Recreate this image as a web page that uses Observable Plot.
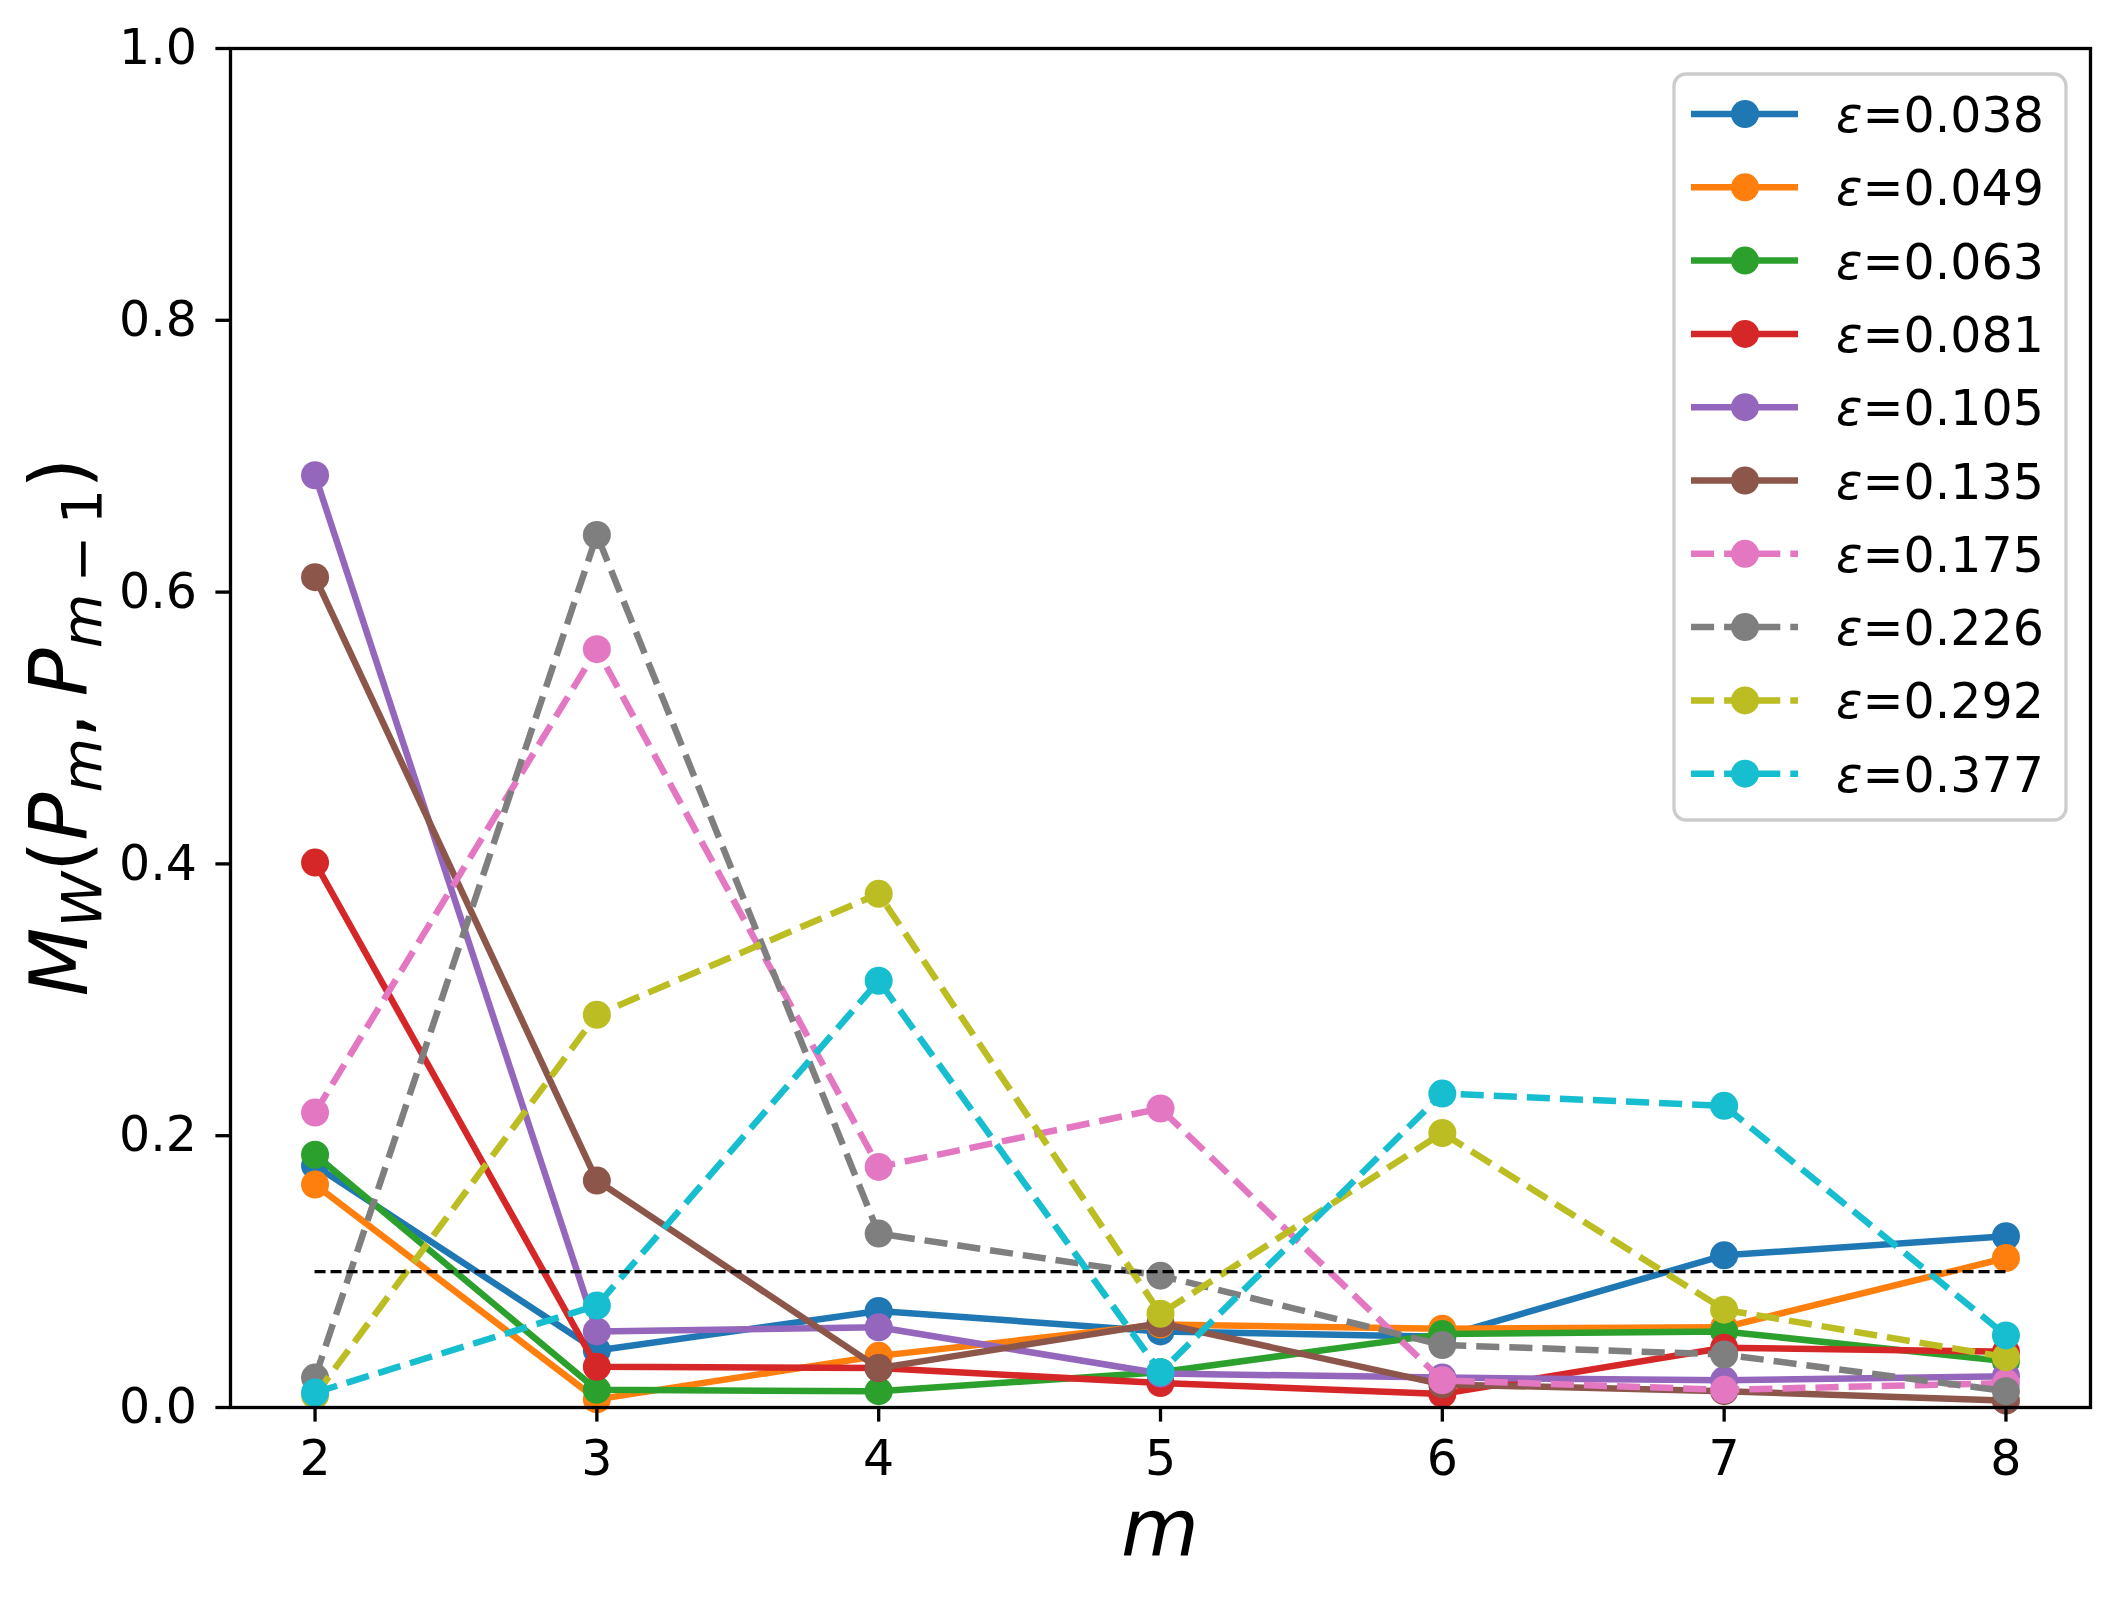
<!DOCTYPE html>
<html>
<head>
<meta charset="utf-8">
<script src="https://cdn.jsdelivr.net/npm/d3@7"></script>
<script src="https://cdn.jsdelivr.net/npm/@observablehq/plot@0.6"></script>
<style>
  html, body { margin: 0; padding: 0; background: #fff; }
  #chart svg { display: block; }
</style>
</head>
<body>
<div id="chart"></div>
<script>
// ---- data ----
const mValues = [2, 3, 4, 5, 6, 7, 8];
const epsLabels = ["0.038", "0.049", "0.063", "0.081", "0.105", "0.135", "0.175", "0.226", "0.292", "0.377"];
const eps038 = [0.178, 0.042, 0.071, 0.056, 0.052, 0.112, 0.126];
const eps049 = [0.164, 0.006, 0.038, 0.061, 0.058, 0.059, 0.110];
const eps063 = [0.186, 0.013, 0.012, 0.026, 0.054, 0.056, 0.034];
const eps081 = [0.401, 0.030, 0.029, 0.018, 0.010, 0.044, 0.041];
const eps105 = [0.686, 0.056, 0.059, 0.025, 0.022, 0.020, 0.023];
const eps135 = [0.611, 0.167, 0.029, 0.062, 0.017, 0.012, 0.005];
const eps175 = [0.217, 0.558, 0.177, 0.220, 0.020, 0.013, 0.018];
const eps226 = [0.022, 0.642, 0.128, 0.097, 0.046, 0.039, 0.012];
const eps292 = [0.009, 0.289, 0.378, 0.069, 0.202, 0.072, 0.037];
const eps377 = [0.011, 0.075, 0.314, 0.026, 0.231, 0.222, 0.053];
const threshold = [0.1];
const yTicks = [0, 0.2, 0.4, 0.6, 0.8, 1.0];

// ---- styles ----
const palette = ["#1f77b4", "#ff7f0e", "#2ca02c", "#d62728", "#9467bd",
                 "#8c564b", "#e377c2", "#7f7f7f", "#bcbd22", "#17becf"];
const dashedSeries = [false, false, false, false, false, false, true, true, true, true];
const seriesValues = [eps038, eps049, eps063, eps081, eps105, eps135, eps175, eps226, eps292, eps377];

const W = 2119, H = 1604;
const LW = 6.5, DASH = "23.1,10", R = 14;

const marks = [];
seriesValues.forEach((vals, i) => {
  const rows = mValues.map((m, j) => ({m, v: vals[j], eps: epsLabels[i]}));
  marks.push(Plot.line(rows, {
    x: "m", y: "v", stroke: "eps", strokeWidth: LW,
    strokeDasharray: dashedSeries[i] ? DASH : null,
    strokeLinejoin: "round", strokeLinecap: dashedSeries[i] ? "butt" : "square"
  }));
  marks.push(Plot.dot(rows, {x: "m", y: "v", fill: "eps", r: R, stroke: "none"}));
});

marks.push(Plot.ruleY(threshold, {
  x1: d3.min(mValues), x2: d3.max(mValues),
  stroke: "black", strokeWidth: 3.1, strokeDasharray: "11,5"
}));
marks.push(Plot.frame({stroke: "black", strokeWidth: 3.3}));
marks.push(Plot.axisX(mValues, {
  tickSize: 14.6, tickPadding: 18, fontSize: 49, strokeWidth: 3.3, label: null, tickFormat: d3.format("d")
}));
marks.push(Plot.axisY(yTicks, {
  tickSize: 14.6, tickPadding: 19, fontSize: 49, strokeWidth: 3.3, label: null, tickFormat: d3.format(".1f")
}));

const svg = Plot.plot({
  width: W, height: H,
  marginLeft: 230, marginRight: 29, marginTop: 48, marginBottom: 197,
  style: {fontFamily: "DejaVu Sans", background: "#fff", color: "black"},
  x: {domain: [1.7, 8.3]},
  y: {domain: [0, 1]},
  color: {domain: epsLabels, range: palette},
  marks
});
document.getElementById("chart").appendChild(svg);

// ---- axis labels ----
const s = d3.select(svg);
s.append("text")
  .attr("x", 1160).attr("y", 1556)
  .attr("text-anchor", "middle")
  .attr("font-family", "DejaVu Sans").attr("font-style", "italic")
  .attr("font-size", 80).attr("fill", "black")
  .text("m");

const yl = s.append("text")
  .attr("transform", "translate(87,727) rotate(-90)")
  .attr("text-anchor", "middle")
  .attr("font-family", "DejaVu Sans").attr("font-size", 80).attr("fill", "black");
const parts = [
  ["M", true, 0, 80], ["W", true, 14, 56], ["(", false, -14, 80],
  ["P", true, 0, 80], ["m", true, 14, 56], [",", false, -14, 80], ["\u2009", false, 0, 80],
  ["P", true, 0, 80], ["m", true, 14, 56], ["\u2009\u2212\u2009", false, 0, 56], ["1", false, 0, 56], [")", false, -14, 80]
];
parts.forEach(([t, it, dy, fs]) => {
  yl.append("tspan").attr("dy", dy).attr("font-size", fs)
    .attr("font-style", it ? "italic" : "normal").text(t);
});

// ---- legend ----
const lg = s.append("g").attr("text-anchor", "start");
lg.append("rect")
  .attr("x", 1674).attr("y", 74).attr("width", 392).attr("height", 746)
  .attr("rx", 12).attr("fill", "white").attr("fill-opacity", 0.8)
  .attr("stroke", "#cccccc").attr("stroke-width", 3.3);
epsLabels.forEach((lab, i) => {
  const y = 114 + 73.3 * i;
  lg.append("line")
    .attr("x1", 1691).attr("x2", 1798).attr("y1", y).attr("y2", y)
    .attr("stroke", palette[i]).attr("stroke-width", LW)
    .attr("stroke-dasharray", dashedSeries[i] ? DASH : null);
  lg.append("circle").attr("cx", 1745).attr("cy", y).attr("r", R).attr("fill", palette[i]);
  const t = lg.append("text").attr("x", 1836).attr("y", y + 18)
    .attr("text-anchor", "start")
    .attr("font-family", "DejaVu Sans").attr("font-size", 49).attr("fill", "black");
  t.append("tspan").attr("font-style", "italic").text("\u03b5");
  t.append("tspan").text("=" + lab);
});
</script>
</body>
</html>
